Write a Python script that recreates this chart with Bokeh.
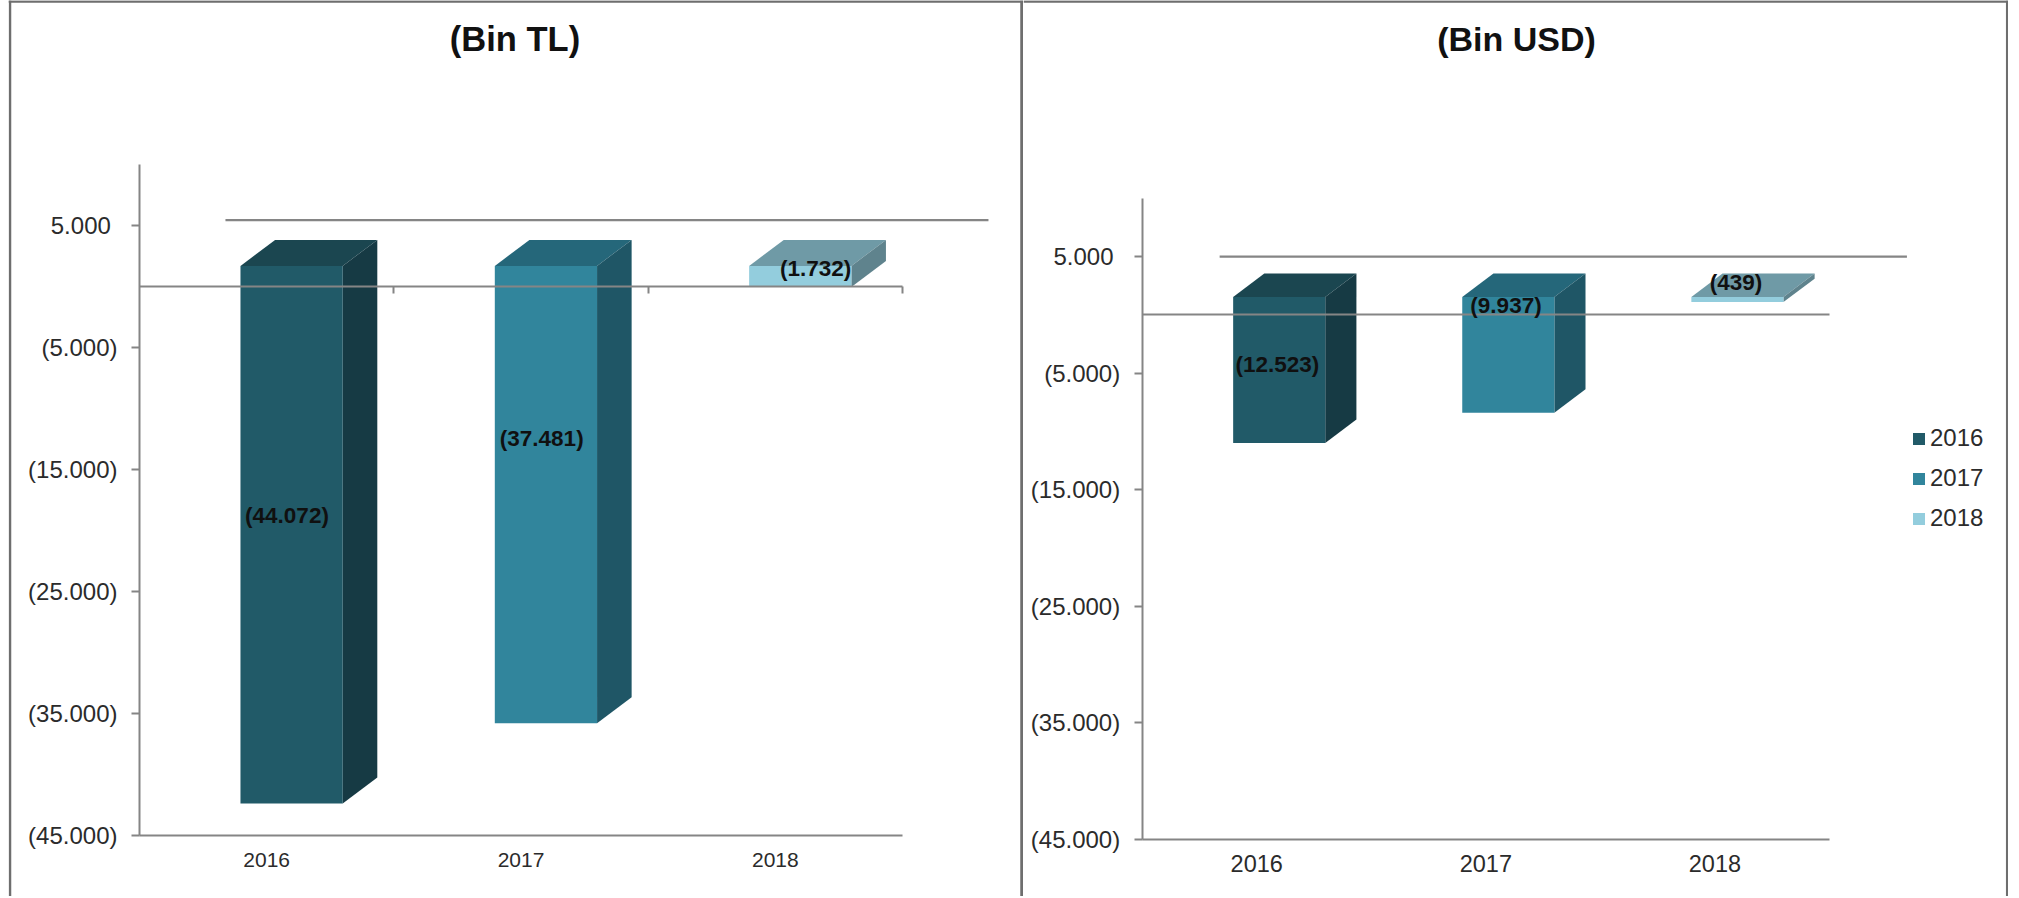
from bokeh.embed import file_html
from bokeh.resources import INLINE
from bokeh.layouts import row
from bokeh.models import (ColumnDataSource, FixedTicker, Label, Legend, LegendItem,
                          LinearAxis, Range1d, Span)
from bokeh.plotting import figure

# ---- data ----
years = ["2016", "2017", "2018"]
tl_values = [-44072, -37481, -1732]
usd_values = [-12523, -9937, -439]
tl_labels = ["(44.072)", "(37.481)", "(1.732)"]
usd_labels = ["(12.523)", "(9.937)", "(439)"]
y_ticks = [5000, -5000, -15000, -25000, -35000, -45000]
y_tick_labels = ["5.000\u00a0", "(5.000)", "(15.000)", "(25.000)", "(35.000)", "(45.000)"]
y_max = 10000
y_min = -45000

# ---- style ----
front_colors = ["#215A68", "#31859C", "#93CDDD"]
side_colors = ["#163A44", "#1F5666", "#5F838D"]
top_colors = ["#1B4650", "#25677A", "#6F9AA6"]
AXIS = "#858585"
BORDER = "#6E6E6E"
FONT = "Liberation Sans"
TEXT = "#2B2B2B"
H = 896
BAR_W = 0.402
BAR_SHIFT = 0.098
DEPTH_X = 0.136
GRID_SHIFT = 0.338


def panel(title, values, labels, page_left, page_right, axis_px, end_px, zero_px, px_per_k,
          lift_px, depth_px, grid_lift_px, title_px, title_font, cat_font, cat_standoff,
          label_dx, label_dy, borders, left_margin, edge_ticks, legend=False):
    width = page_right - page_left
    cat_px = (end_px - axis_px) / 3.0
    k = px_per_k / 1000.0
    x_of = lambda px: (px - axis_px) / cat_px
    y_of = lambda py: (zero_px - py) / k
    p = figure(width=width, height=H, output_backend="svg", toolbar_location=None,
               x_axis_type=None, y_axis_type=None, min_border=0,
               x_range=Range1d(x_of(page_left), x_of(page_right)),
               y_range=Range1d(y_of(H), y_of(0)),
               margin=(0, 0, 0, left_margin))
    p.outline_line_color = None
    p.background_fill_color = "white"
    p.border_fill_color = "white"

    lift = lift_px / k
    depth = depth_px / k
    grid_lift = grid_lift_px / k

    # back-wall line at the 5.000 level
    p.segment(x0=[GRID_SHIFT], x1=[3 + GRID_SHIFT], y0=[y_ticks[0] + grid_lift],
              y1=[y_ticks[0] + grid_lift], line_color=AXIS, line_width=2.2)

    items = []
    for i, (yr, v) in enumerate(zip(years, values)):
        x0 = i + 0.5 + BAR_SHIFT - BAR_W / 2
        x1 = x0 + BAR_W
        top = lift
        bot = lift + v
        p.patch([x0, x0 + DEPTH_X, x1 + DEPTH_X, x1], [top, top + depth, top + depth, top],
                fill_color=top_colors[i], line_color=None)
        p.patch([x1, x1 + DEPTH_X, x1 + DEPTH_X, x1], [top, top + depth, bot + depth, bot],
                fill_color=side_colors[i], line_color=None)
        r = p.vbar(x=[(x0 + x1) / 2], width=BAR_W, top=[top], bottom=[bot],
                   fill_color=front_colors[i], line_color=None)
        items.append(LegendItem(label=yr, renderers=[r]))

    # value labels
    src = ColumnDataSource(dict(
        x=[i + 0.5 + BAR_SHIFT for i in range(3)],
        y=[lift + v / 2 for v in values],
        t=labels, dx=label_dx, dy=label_dy))
    p.text(x="x", y="y", text="t", x_offset="dx", y_offset="dy", source=src,
           text_font={"value": FONT}, text_font_style="bold", text_font_size="22.5px",
           text_color="#101010", text_align="center", text_baseline="middle", level="overlay")

    # axes
    ya = LinearAxis(fixed_location=0, ticker=FixedTicker(ticks=y_ticks),
                    major_label_overrides=dict(zip(y_ticks, y_tick_labels)),
                    bounds=(y_min, y_max), major_tick_in=0, major_tick_out=8,
                    minor_tick_line_color=None, axis_line_color=AXIS, axis_line_width=2,
                    major_tick_line_color=AXIS, major_tick_line_width=2,
                    major_label_text_font=FONT, major_label_text_font_size="24px",
                    major_label_text_color=TEXT, major_label_standoff=14)
    p.add_layout(ya, "left")

    centers = [0.5, 1.5, 2.5]
    xa = LinearAxis(fixed_location=y_min, ticker=FixedTicker(ticks=centers),
                    major_label_overrides=dict(zip(centers, years)),
                    bounds=(0, 3), major_tick_in=0, major_tick_out=0,
                    minor_tick_line_color=None, axis_line_color=AXIS, axis_line_width=2,
                    major_tick_line_color=None,
                    major_label_text_font=FONT, major_label_text_font_size=cat_font,
                    major_label_text_color=TEXT, major_label_standoff=cat_standoff)
    p.add_layout(xa, "below")

    edges = [1, 2, 3] if edge_ticks else []
    za = LinearAxis(fixed_location=0, ticker=FixedTicker(ticks=edges),
                    major_label_overrides={e: "" for e in edges},
                    bounds=(0, 3), major_tick_in=0, major_tick_out=7,
                    minor_tick_line_color=None, axis_line_color=AXIS, axis_line_width=2.2,
                    major_tick_line_color=AXIS, major_tick_line_width=2)
    p.add_layout(za, "below")

    # title
    p.add_layout(Label(x=x_of(title_px), y=y_of(38), text=title, text_font=FONT,
                       text_font_style="bold", text_font_size=title_font, text_color="#111111",
                       text_align="center", text_baseline="middle"))

    # panel borders
    for px, w in borders:
        p.add_layout(Span(location=x_of(px), dimension="height", line_color=BORDER, line_width=w))
    p.add_layout(Span(location=y_of(1), dimension="width", line_color=BORDER, line_width=2.5))

    if legend:
        lg = Legend(items=items, orientation="vertical", location=(legend[0], legend[1]),
                    background_fill_alpha=0, border_line_color=None, margin=0, padding=0,
                    glyph_width=15, glyph_height=15, label_standoff=4, spacing=12,
                    label_text_font=FONT, label_text_font_size="24px", label_text_color=TEXT)
        p.add_layout(lg, "center")
    return p


p1 = panel("(Bin TL)", tl_values, tl_labels, 8, 1023, 139, 902, 286, 12.2, 20.6, 26, 5.4,
           514.5, "34.5px", "21px", 17, [-4.6, -4.2, 15.4], [-19, -56, -8],
           [(9.5, 2.5), (1021.5, 3.5)], 8, True)
p2 = panel("(Bin USD)", usd_values, usd_labels, 1023, 2008, 1141.7, 1829, 314.3, 11.65, 17.8, 23.4, 0,
           1516, "34px", "23.5px", 16, [-1.8, -2.3, -1.3], [-5, -49, -17],
           [(2006.7, 2.5)], 0, False, legend=(888, 364))

layout = row(p1, p2, spacing=0)
open("out.html", "w").write(file_html(layout, INLINE))
